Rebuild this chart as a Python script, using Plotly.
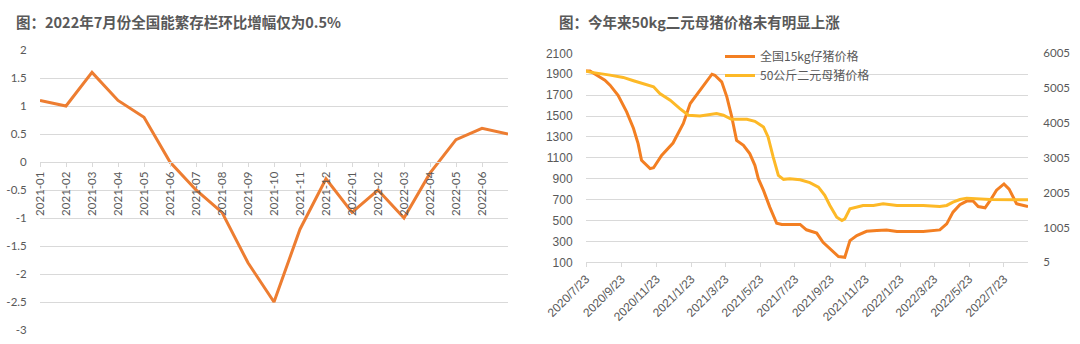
import plotly.graph_objects as go

W, H = 1080, 344

# ---------------- Left chart data ----------------
months = ["2021-01", "2021-02", "2021-03", "2021-04", "2021-05", "2021-06",
          "2021-07", "2021-08", "2021-09", "2021-10", "2021-11", "2021-12",
          "2022-01", "2022-02", "2022-03", "2022-04", "2022-05", "2022-06", "2022-07"]
mom_change = [1.1, 1.0, 1.6, 1.1, 0.8, 0.0, -0.5, -0.9, -1.8, -2.5, -1.2, -0.3,
              -0.9, -0.5, -1.0, -0.2, 0.4, 0.6, 0.5]
left_y_ticks = [2, 1.5, 1, 0.5, 0, -0.5, -1, -1.5, -2, -2.5, -3]
left_y_labels = ["2", "1.5", "1", "0.5", "0", "-0.5", "-1", "-1.5", "-2", "-2.5", "-3"]

# ---------------- Right chart data ----------------
piglet_dates = ["2020-07-23", "2020-07-30", "2020-08-25", "2020-09-03", "2020-09-17", "2020-10-02",
                "2020-10-14", "2020-10-22", "2020-10-28", "2020-11-12", "2020-11-18", "2020-12-02",
                "2020-12-22", "2020-12-29", "2021-01-09", "2021-01-21", "2021-02-01", "2021-02-16",
                "2021-02-28", "2021-03-05", "2021-03-17", "2021-03-26", "2021-04-03", "2021-04-12",
                "2021-04-24", "2021-05-05", "2021-05-14", "2021-05-20", "2021-05-29", "2021-06-09",
                "2021-06-21", "2021-06-30", "2021-08-01", "2021-08-12", "2021-08-30", "2021-09-10",
                "2021-09-22", "2021-10-07", "2021-10-18", "2021-10-27", "2021-11-08", "2021-11-25",
                "2021-12-13", "2021-12-30", "2022-01-17", "2022-03-04", "2022-04-02", "2022-04-14",
                "2022-04-25", "2022-05-07", "2022-05-19", "2022-05-30", "2022-06-08", "2022-06-20",
                "2022-06-29", "2022-07-10", "2022-07-23", "2022-08-01", "2022-08-14", "2022-09-03"]
piglet_price = [1930, 1930, 1843, 1795, 1699, 1539,
                1380, 1236, 1076, 996, 1005, 1123,
                1241, 1315, 1428, 1619, 1699, 1811,
                1900, 1890, 1827, 1683, 1507, 1267,
                1220, 1140, 1028, 900, 788, 628,
                474, 462, 462, 411, 380, 292,
                228, 155, 148, 308, 356, 397,
                404, 410, 394, 394, 410, 468,
                580, 651, 686, 686, 634, 622,
                692, 790, 850, 800, 660, 634]

sow_dates = ["2020-07-23", "2020-07-30", "2020-09-03", "2020-09-26", "2020-10-14", "2020-10-31",
             "2020-11-18", "2020-11-29", "2020-12-17", "2021-01-03", "2021-01-18", "2021-02-07",
             "2021-03-08", "2021-03-20", "2021-04-03", "2021-04-30", "2021-05-14", "2021-05-29",
             "2021-06-06", "2021-06-15", "2021-06-24", "2021-07-03", "2021-07-14", "2021-08-01",
             "2021-08-18", "2021-09-02", "2021-09-13", "2021-09-22", "2021-10-04", "2021-10-13",
             "2021-10-18", "2021-10-27", "2021-11-08", "2021-11-19", "2021-12-07", "2021-12-24",
             "2022-01-17", "2022-03-04", "2022-04-02", "2022-04-14", "2022-04-25", "2022-05-07",
             "2022-05-19", "2022-06-29", "2022-09-03"]
sow_price = [5495, 5465, 5378, 5312, 5216, 5138,
             5042, 4850, 4658, 4418, 4226, 4208,
             4274, 4226, 4112, 4112, 4052, 3890,
             3602, 3026, 2501, 2387, 2405, 2375,
             2291, 2162, 1925, 1637, 1301, 1205,
             1253, 1541, 1589, 1637, 1637, 1685,
             1637, 1637, 1607, 1637, 1733, 1808,
             1847, 1808, 1799]

date_ticks = ["2020-07-23", "2020-09-23", "2020-11-23", "2021-01-23", "2021-03-23", "2021-05-23",
              "2021-07-23", "2021-09-23", "2021-11-23", "2022-01-23", "2022-03-23", "2022-05-23",
              "2022-07-23"]
date_tick_labels = ["2020/7/23", "2020/9/23", "2020/11/23", "2021/1/23", "2021/3/23", "2021/5/23",
                    "2021/7/23", "2021/9/23", "2021/11/23", "2022/1/23", "2022/3/23", "2022/5/23",
                    "2022/7/23"]
left_axis_ticks = [100, 300, 500, 700, 900, 1100, 1300, 1500, 1700, 1900, 2100]
right_axis_ticks = [5, 1005, 2005, 3005, 4005, 5005, 6005]

GRAY = "#595959"
GRID = "#d9d9d9"
CJK = "Noto Sans CJK SC"


def px_x(p):
    return p / W


def px_y(p):
    return 1 - p / H


fig = go.Figure()

fig.add_trace(go.Scatter(x=months, y=mom_change, mode="lines",
                         line=dict(color="#ED7D31", width=3),
                         xaxis="x", yaxis="y", showlegend=False))

fig.add_trace(go.Scatter(x=piglet_dates, y=piglet_price, mode="lines",
                         name="全国15kg仔猪价格",
                         line=dict(color="#F37F22", width=3),
                         xaxis="x2", yaxis="y2"))
fig.add_trace(go.Scatter(x=sow_dates, y=sow_price, mode="lines",
                         name="50公斤二元母猪价格",
                         line=dict(color="#FDB927", width=3),
                         xaxis="x2", yaxis="y3"))

left_ydom = [px_y(330), px_y(50)]
right_ydom = [px_y(262.3), px_y(53.3)]
zero_pos = left_ydom[0] + (left_ydom[1] - left_ydom[0]) * (3 / 5)

fig.update_layout(
    template="none",
    width=W, height=H,
    margin=dict(l=0, r=0, t=0, b=0, autoexpand=False),
    paper_bgcolor="white", plot_bgcolor="white",
    xaxis=dict(domain=[px_x(40), px_x(508)], type="category",
               range=[0, len(months) - 1], automargin=False,
               anchor="free", position=zero_pos,
               tickvals=months[:-1], ticktext=months[:-1],
               tickangle=-90, ticks="outside", ticklen=4, tickcolor=GRID,
               showline=True, linecolor=GRID, linewidth=1,
               showgrid=False, zeroline=False,
               tickfont=dict(family="Lato", size=11.5, color=GRAY)),
    yaxis=dict(domain=left_ydom, anchor="x", range=[-3, 2], automargin=False,
               tickvals=left_y_ticks, ticktext=left_y_labels,
               showgrid=True, gridcolor=GRID, gridwidth=1, zeroline=False,
               ticks="outside", ticklen=10, tickcolor="rgba(0,0,0,0)",
               showline=False,
               tickfont=dict(family="Lato", size=11.5, color=GRAY)),
    xaxis2=dict(domain=[px_x(586), px_x(1028)], type="date", automargin=False,
                range=["2020-07-23", "2022-09-03"], anchor="y2",
                tickvals=date_ticks, ticktext=date_tick_labels,
                tickangle=-45, ticks="outside", ticklen=4, tickcolor=GRID,
                showline=True, linecolor=GRID, linewidth=1,
                showgrid=False, zeroline=False,
                tickfont=dict(family="Liberation Sans", size=12, color=GRAY)),
    yaxis2=dict(domain=right_ydom, anchor="x2", range=[100, 2100], automargin=False,
                tickvals=left_axis_ticks,
                showgrid=True, gridcolor=GRID, gridwidth=1, zeroline=False,
                ticks="outside", ticklen=10, tickcolor="rgba(0,0,0,0)",
                tickfont=dict(family="Liberation Sans", size=12, color=GRAY)),
    yaxis3=dict(domain=right_ydom, anchor="x2", overlaying="y2", side="right",
                range=[5, 6005], tickvals=right_axis_ticks, automargin=False,
                showgrid=False, zeroline=False,
                ticks="outside", ticklen=12, tickcolor="rgba(0,0,0,0)",
                tickfont=dict(family="Lato", size=11.5, color=GRAY)),
    legend=dict(x=px_x(720), y=px_y(42), xanchor="left", yanchor="top",
                bgcolor="rgba(0,0,0,0)",
                font=dict(family=CJK, size=12, color=GRAY)),
    annotations=[
        dict(text="<b>图：2022年7月份全国能繁存栏环比增幅仅为0.5%</b>",
             x=px_x(14), y=px_y(21), xref="paper", yref="paper",
             xanchor="left", yanchor="middle", showarrow=False,
             font=dict(family=CJK, size=14.5, color=GRAY)),
        dict(text="<b>图：今年来50kg二元母猪价格未有明显上涨</b>",
             x=px_x(557), y=px_y(21), xref="paper", yref="paper",
             xanchor="left", yanchor="middle", showarrow=False,
             font=dict(family=CJK, size=14.5, color=GRAY)),
    ],
)

fig.write_html("out.html")
